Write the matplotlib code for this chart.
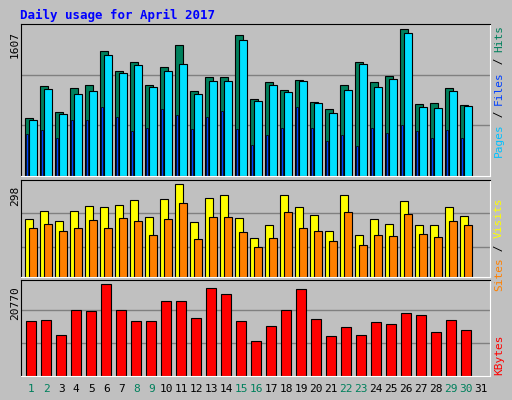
import numpy as np
import matplotlib.pyplot as plt

days = list(range(1, 32))
weekend = [1, 2, 8, 9, 15, 16, 22, 23, 29, 30]

# values (30 days, day 31 empty)
hits = [610, 948, 673, 927, 959, 1318, 1107, 1202, 959, 1149, 1381, 895, 1043, 1043, 1487, 811, 990, 906, 1011, 779, 705, 959, 1202, 990, 1054, 1551, 758, 768, 927, 747]
files = [589, 916, 652, 863, 895, 1276, 1085, 1170, 937, 1107, 1181, 863, 1001, 1001, 1434, 789, 959, 885, 1001, 768, 663, 906, 1181, 937, 1022, 1508, 726, 715, 895, 737]
pages = [441, 483, 398, 589, 589, 726, 620, 472, 504, 705, 641, 493, 620, 684, 493, 324, 430, 504, 726, 504, 366, 430, 314, 504, 451, 536, 472, 398, 483, 398]
visits = [178, 203, 172, 203, 219, 216, 222, 237, 184, 240, 287, 169, 243, 253, 180, 121, 159, 253, 216, 190, 140, 253, 130, 178, 162, 234, 159, 159, 216, 187]
sites = [152, 164, 140, 150, 174, 152, 180, 171, 130, 178, 226, 118, 184, 184, 137, 93, 121, 199, 150, 140, 112, 199, 99, 130, 127, 193, 133, 124, 171, 159]
kbytes = [12272, 12490, 9222, 14888, 14452, 20698, 14888, 12272, 12272, 16850, 16850, 12926, 19609, 18302, 12272, 7915, 11183, 14670, 19391, 12708, 9004, 11037, 9222, 12054, 11618, 14016, 13579, 9875, 12490, 10311]

bg = '#C0C0C0'
W, H = 512, 400
fig = plt.figure(figsize=(W / 100, H / 100), dpi=100)
fig.patch.set_facecolor(bg)
mono = 'DejaVu Sans Mono'

def add_panel(y0, y1):
    ax = fig.add_axes([21 / W, 1 - y1 / H, 469 / W, (y1 - y0) / H])
    ax.set_facecolor(bg)
    ax.set_xlim(0.55, 0.55 + 469 / 15)
    ax.set_xticks([])
    ax.set_yticks([])
    for s in ax.spines.values():
        s.set_color('black')
    ax.spines['right'].set_color('white')
    ax.spines['bottom'].set_color('white')
    return ax

x = np.arange(1, 31)

ax1 = add_panel(24, 176)
ax1.set_ylim(0, 1607)
for g in (1607 / 3, 2 * 1607 / 3):
    ax1.axhline(g, color='#808080', lw=1, zorder=0)
ax1.bar(x - 0.163, hits, 0.49, align='edge', color='#00805C', edgecolor='black', lw=0.8)
ax1.bar(x + 0.103, files, 0.49, align='edge', color='#00E0FF', edgecolor='black', lw=0.8)
ax1.bar(x - 0.11, pages, 0.14, align='edge', color='#0040FF', edgecolor='black', lw=0.5)

ax2 = add_panel(180, 277)
ax2.set_ylim(0, 298)
for g in (93.1, 195.6):
    ax2.axhline(g, color='#808080', lw=1, zorder=0)
ax2.bar(x - 0.163, visits, 0.49, align='edge', color='#FFFF00', edgecolor='black', lw=0.8)
ax2.bar(x + 0.103, sites, 0.49, align='edge', color='#FF8000', edgecolor='black', lw=0.8)

ax3 = add_panel(280, 376)
ax3.set_ylim(0, 21500)
for g in (21500 / 3 * 1.03, 2 * 21500 / 3 * 1.03):
    ax3.axhline(g, color='#808080', lw=1, zorder=0)
ax3.bar(x - 0.097, kbytes, 0.667, align='edge', color='#FF0000', edgecolor='black', lw=0.8)

fig.text(20 / W, 1 - 15 / H, 'Daily usage for April 2017', color='#0000FF',
         fontsize=9, fontweight='bold', family=mono, va='center')

# rotated max labels
for y, t in ((45, '1607'), (196, '298'), (303, '20770')):
    fig.text(15 / W, 1 - y / H, t, rotation=90, fontsize=8, family=mono, ha='center', va='center')

# right-side legends
def side(parts, ytop):
    y = ytop
    for t, c in parts:
        n = len(t)
        fig.text(499 / W, 1 - (y + n * 3.3) / H, t, rotation=90, color=c, fontsize=8,
                 family=mono, ha='center', va='center')
        y += n * 6.6

side([('Hits', '#00805C'), (' / ', '#000000'), ('Files', '#0040FF'), (' / ', '#000000'), ('Pages', '#00C0FF')], 25)
side([('Visits', '#FFFF00'), (' / ', '#000000'), ('Sites', '#FF8000')], 198)
side([('KBytes', '#FF0000')], 335)

for d in days:
    xp = 21 + (d - 0.55 + 0.23) * 15
    fig.text(xp / W, 1 - 389 / H, str(d), ha='center', va='center', fontsize=8,
             family=mono, color='#00805C' if d in weekend else 'black')

fig.savefig('out.png', dpi=100, facecolor=bg)
